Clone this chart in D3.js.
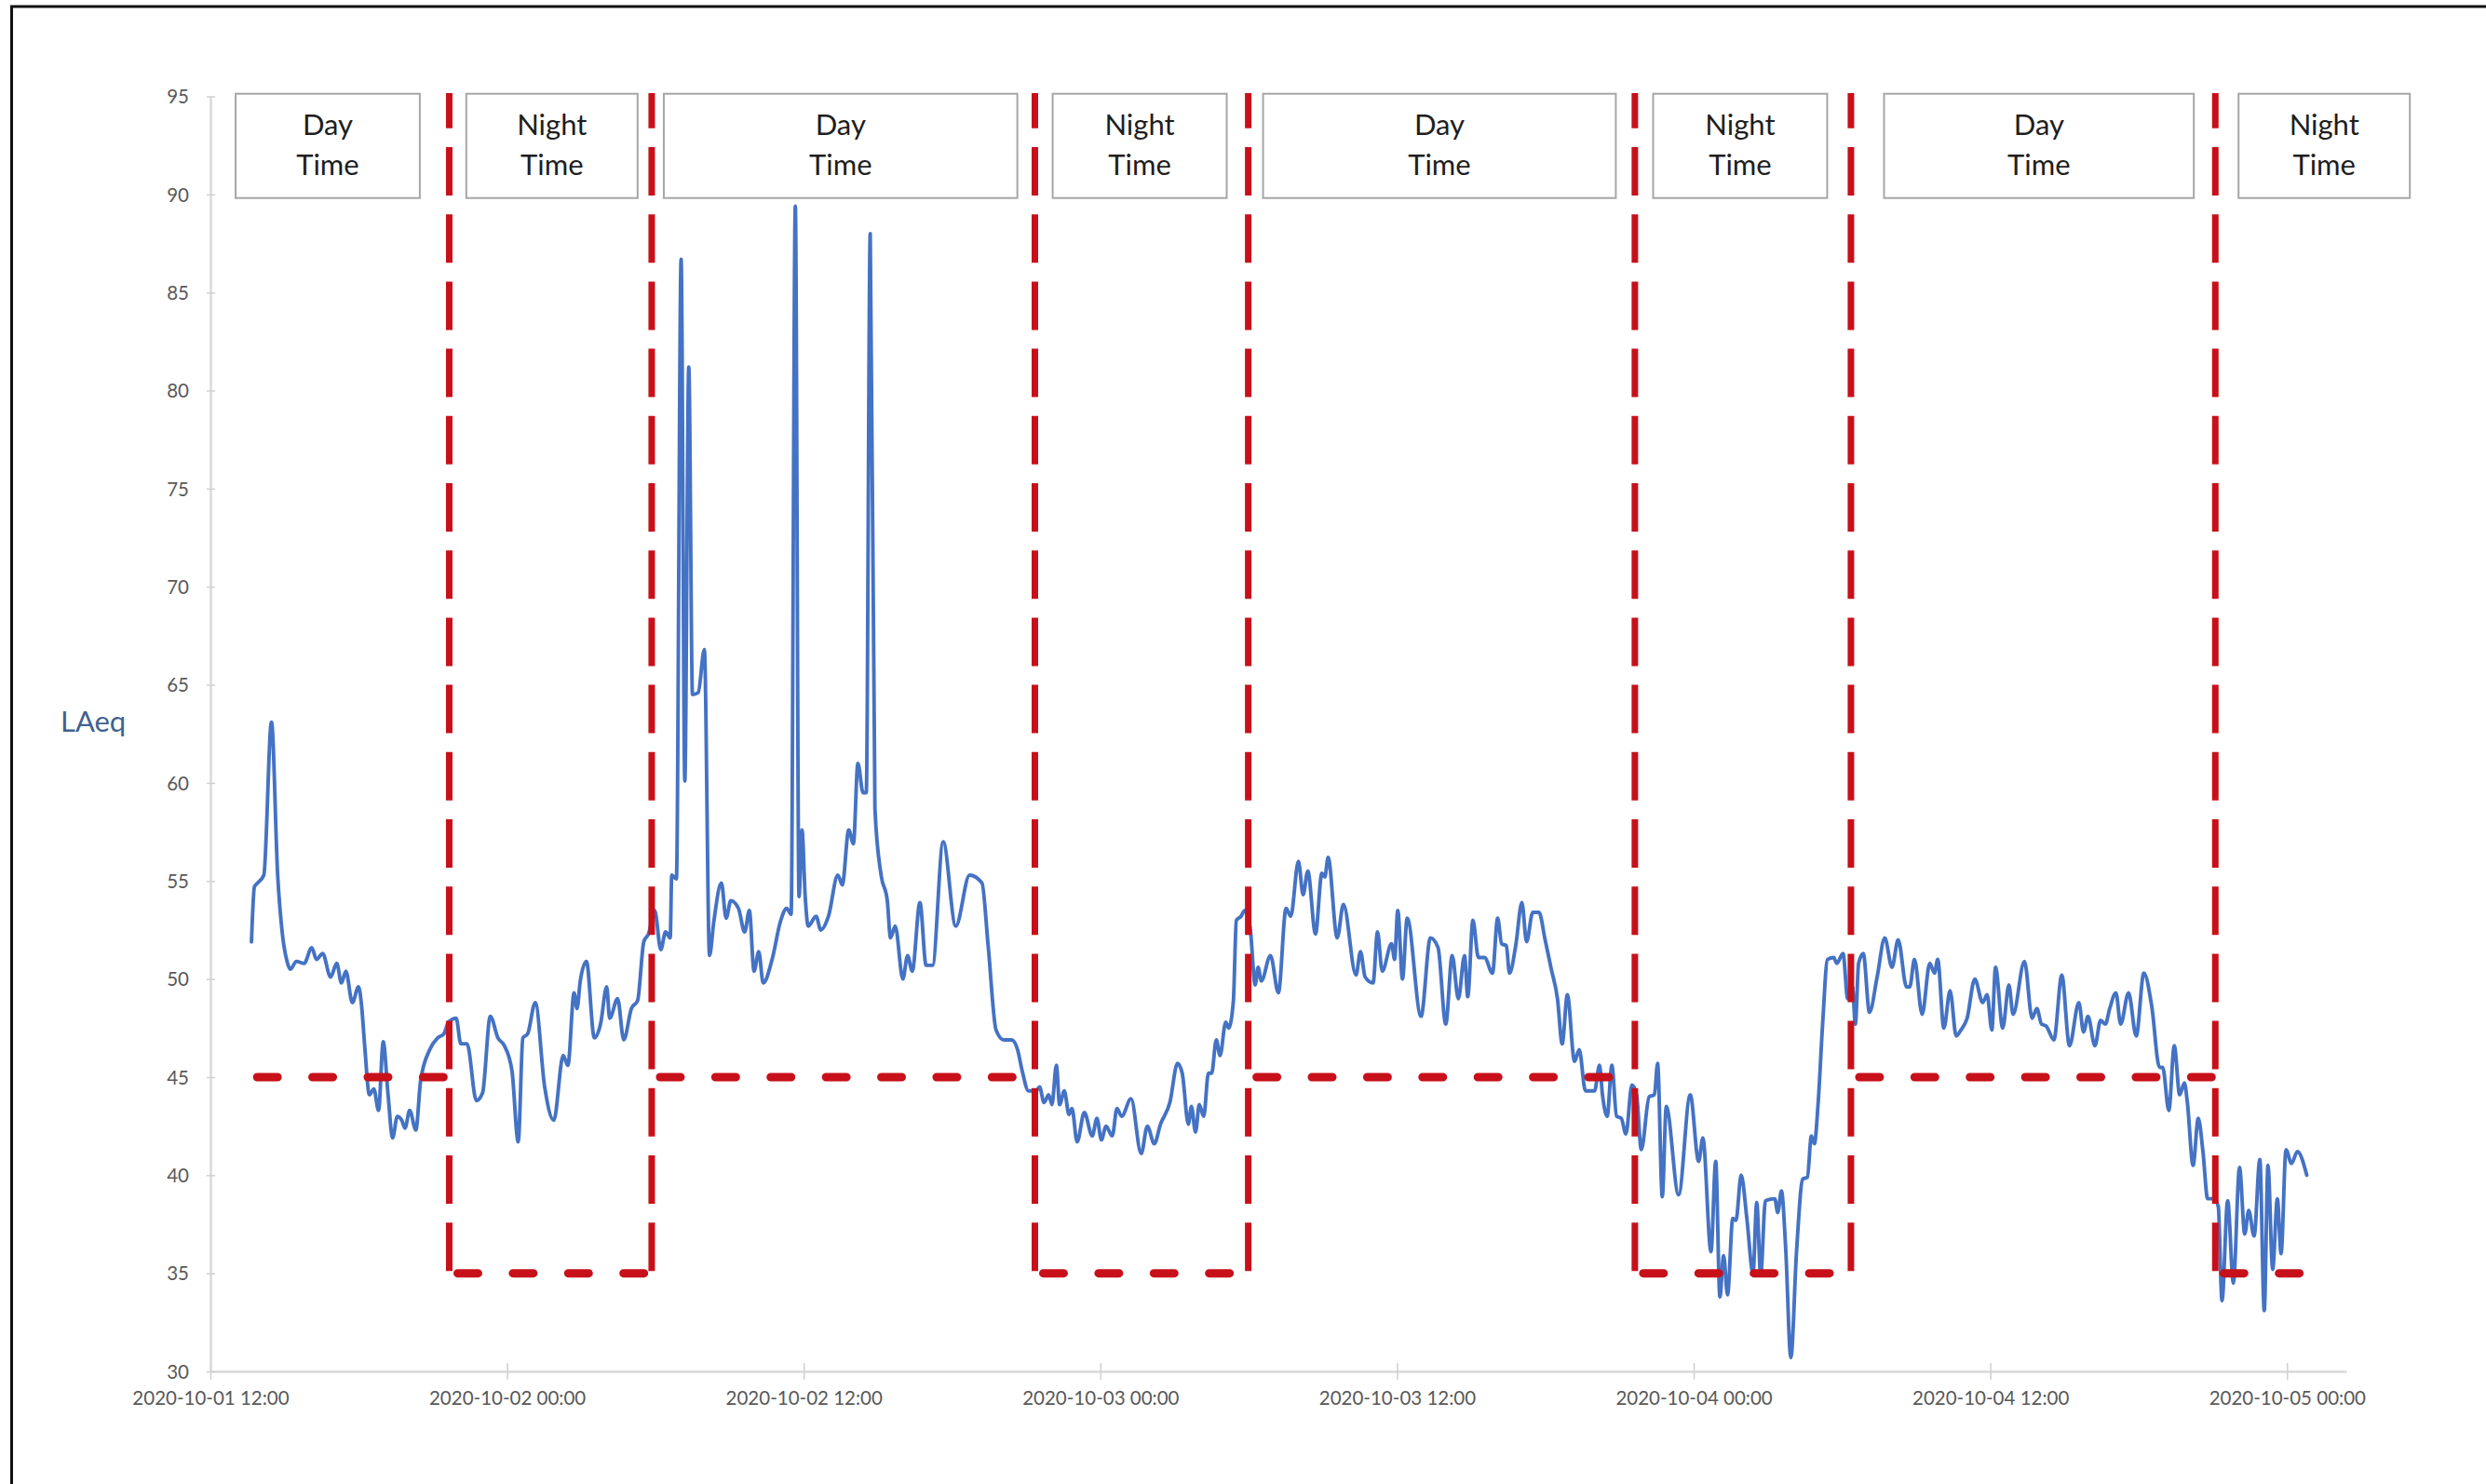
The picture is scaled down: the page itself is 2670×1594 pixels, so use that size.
<!DOCTYPE html>
<html>
<head>
<meta charset="utf-8">
<script src="https://cdn.jsdelivr.net/npm/d3@7"></script>
<style>
html, body { margin: 0; padding: 0; background: #fff; }
svg { display: block; }
</style>
</head>
<body>
<svg id="chart" width="2670" height="1594"></svg>
<script>
// ---------------- DATA ----------------
const startTime = "2020-10-01 12:00";
const axisEndTime = "2020-10-05 02:24";
const xTickLabels = ["2020-10-01 12:00", "2020-10-02 00:00", "2020-10-02 12:00", "2020-10-03 00:00",
                     "2020-10-03 12:00", "2020-10-04 00:00", "2020-10-04 12:00", "2020-10-05 00:00"];
const yTicks = [30, 35, 40, 45, 50, 55, 60, 65, 70, 75, 80, 85, 90, 95];
const yLabel = "LAeq";

// elapsed hours since 2020-10-01 12:00
const hoursFromStart = [
 1.66,1.78,1.91,2.16,2.47,2.72,2.91,3.10,3.23,3.48,3.79,4.10,4.29,4.54,4.86,5.11,5.30,5.48,5.74,5.99,
 6.11,6.24,6.43,6.61,6.80,6.99,7.18,7.37,7.56,7.74,7.87,8.06,8.31,8.50,8.87,9.19,9.44,9.63,9.94,10.13,
 10.38,10.76,11.01,11.32,11.63,11.89,12.20,12.45,12.64,12.83,13.14,13.52,13.89,14.27,14.46,14.71,14.83,14.96,15.21,15.53,
 15.78,16.03,16.15,16.47,16.72,17.03,17.28,17.53,17.72,17.97,18.22,
 18.41,18.60,18.66,18.85,19.04,19.19,19.35,19.50,19.73,19.98,20.19,20.36,20.67,20.86,21.05,21.36,21.61,21.80,21.99,22.18,
 22.36,22.74,23.05,23.31,23.49,23.66,23.81,23.93,24.06,24.18,24.50,24.69,25.00,25.38,25.56,25.82,26.01,26.19,26.40,26.53,
 26.69,26.88,27.13,27.38,27.51,27.70,28.01,28.20,28.39,28.70,28.95,29.21,29.64,30.15,30.71,31.21,31.46,31.78,32.09,32.41,
 32.65,32.84,33.09,33.41,
 33.54,33.72,33.91,34.04,34.22,34.35,34.54,34.73,34.85,35.06,35.35,35.67,35.86,36.04,36.23,36.48,36.67,36.86,37.24,37.65,
 37.90,38.18,38.43,38.81,39.12,39.31,39.56,39.68,39.85,40.00,40.18,40.37,40.50,40.69,40.84,41.07,41.19,41.38,41.50,41.69,
 41.84,42.06,42.26,42.38,42.51,42.88,43.20,43.51,43.70,44.01,44.20,44.39,44.70,44.96,45.08,45.21,45.58,45.83,46.34,46.52,
 46.71,47.03,47.21,47.40,47.78,47.90,48.03,48.22,48.41,48.97,49.35,49.66,49.97,50.23,
 50.48,50.73,50.86,51.07,51.29,51.54,51.86,52.07,52.23,52.42,52.55,52.80,53.05,53.24,53.49,53.74,53.99,54.24,54.49,54.68,
 54.89,55.18,55.37,55.62,55.99,56.19,56.31,56.50,56.69,56.88,57.07,57.26,57.50,57.69,57.88,58.20,58.41,58.54,58.73,58.89,
 59.39,59.86,60.20,60.37,60.70,60.89,61.06,61.21,61.37,61.58,61.71,61.92,62.15,62.40,62.55,62.71,62.90,63.28,63.40,63.55,
 63.72,63.93,64.16,64.41,64.60,64.76,64.88,65.03,65.22,65.41,65.66,65.79,66.04,66.23,66.42,66.54,
 66.67,66.86,67.11,67.42,67.73,68.02,68.27,68.61,68.74,68.93,69.24,69.55,69.74,69.87,70.12,70.37,70.62,70.81,71.06,71.37,
 71.69,71.87,72.06,72.21,72.50,72.75,72.92,73.38,73.69,73.88,74.07,74.26,74.57,74.89,75.20,75.58,75.77,75.95,76.23,76.46,
 76.65,76.83,77.08,77.27,77.59,77.90,78.21,78.53,78.84,78.97,79.22,79.44,79.66,79.85,79.97,80.20,80.41,80.60,80.79,81.04,
 81.22,81.37,81.60,81.83,82.08,82.29,82.45,82.67,82.90,83.08,83.23,83.42,83.61,83.76,83.96,84.18,84.42,84.80
];
const laeqValues = [
 51.9,54.7,54.9,55.3,63.1,55.3,52.3,50.9,50.5,50.9,50.8,51.6,51.0,51.3,50.1,50.8,49.8,50.4,48.8,49.6,
 48.7,46.6,44.1,44.4,43.3,46.8,44.2,41.9,43.0,42.8,42.4,43.3,42.3,44.8,46.4,47.0,47.2,47.8,48.0,46.7,
 46.7,43.8,44.2,48.1,47.0,46.6,45.3,41.7,47.0,47.2,48.8,44.5,42.8,46.1,45.6,49.3,48.5,49.9,50.9,47.0,
 47.7,49.6,48.0,49.0,46.9,48.5,48.9,51.9,52.3,53.5,51.5,
 52.4,52.1,55.3,55.1,86.7,60.1,81.2,64.5,64.6,66.8,51.2,52.9,54.9,53.1,54.0,53.6,52.4,53.5,50.4,51.4,
 49.8,51.1,52.9,53.6,53.3,89.4,54.2,57.6,54.2,52.7,53.2,52.5,53.2,55.3,54.8,57.6,56.9,61.0,59.5,59.5,
 88.0,58.7,55.3,54.0,52.1,52.7,50.0,51.2,50.4,53.9,50.7,50.7,57.0,52.7,55.3,54.9,51.7,47.4,46.9,46.9,
 46.4,45.3,44.3,44.3,
 44.5,43.7,44.1,43.6,45.6,43.6,44.3,43.1,43.4,41.7,43.2,42.0,42.9,41.8,42.5,42.0,43.4,43.0,43.9,41.1,
 42.5,41.6,42.6,43.7,45.7,45.2,42.6,43.5,42.2,43.6,43.0,45.2,45.2,46.9,46.1,47.8,47.5,48.9,53.0,53.2,
 53.5,52.6,49.7,50.6,49.9,51.2,49.3,53.6,53.2,56.0,54.3,55.5,52.3,55.4,55.2,56.2,52.1,53.8,50.2,51.4,
 50.1,49.8,52.4,50.4,51.8,51.0,53.5,50.0,53.1,48.1,52.1,51.6,47.7,51.2,
 49.0,51.2,49.1,53.0,51.1,51.1,50.3,53.1,51.8,51.7,50.3,51.7,53.9,51.9,53.4,53.4,52.0,50.5,49.0,46.7,
 49.2,45.8,46.4,44.3,44.3,45.6,44.1,43.0,45.6,43.0,42.9,42.1,44.6,44.1,41.3,44.0,44.1,45.7,38.9,43.5,
 39.0,44.1,40.7,41.9,36.1,40.7,33.8,35.9,33.9,37.8,37.7,40.0,37.8,35.0,38.6,34.9,38.7,38.8,38.1,39.2,
 36.3,30.7,36.1,39.8,39.9,42.0,41.6,43.6,47.8,51.0,51.1,50.8,51.3,49.0,49.6,47.7,
 50.8,51.3,48.3,50.1,52.1,50.6,52.0,49.6,49.6,51.0,48.2,50.8,50.3,51.0,47.5,49.4,47.1,47.4,48.0,50.0,
 48.8,49.2,47.4,50.6,47.5,49.7,48.2,50.9,48.0,48.5,47.7,47.6,46.9,50.2,46.6,48.8,47.3,48.1,46.6,47.9,
 47.7,48.5,49.3,47.7,49.3,47.1,50.3,48.6,45.5,45.5,43.3,46.6,44.1,44.7,43.7,40.5,42.9,41.2,38.8,38.8,
 38.4,33.6,38.7,34.5,40.4,37.0,38.2,36.9,40.8,33.1,40.5,35.2,38.8,36.0,41.3,40.6,41.2,40.0
];

// Day / night periods
const periodNames = ["Day", "Night", "Day", "Night", "Day", "Night", "Day", "Night"];
const periodBoundaryHours = [9.66, 17.85, 33.35, 41.98, 57.62, 66.36, 81.10];
const limitValues = [45, 35, 45, 35, 45, 35, 45, 35];
const limitStartHour = 1.55;
const limitEndHour = 84.94;
const boxStartHours = [1.02, 10.35, 18.34, 34.07, 42.58, 58.36, 67.70, 82.04];
const boxEndHours   = [8.47, 17.28, 32.64, 41.11, 56.85, 65.40, 80.23, 88.97];

// ---------------- CHART ----------------
const parseT = d3.utcParse("%Y-%m-%d %H:%M");
const fmtT = d3.utcFormat("%Y-%m-%d %H:%M");
const t0 = parseT(startTime);
const hToDate = h => new Date(t0.getTime() + h * 3600e3);

const svg = d3.select("#chart");
const x = d3.scaleUtc().domain([t0, parseT(axisEndTime)]).range([226, 2520]);
const y = d3.scaleLinear().domain([30, 95]).range([1473, 103.5]);

const FONT = "Lato, 'Open Sans', 'Liberation Sans', sans-serif";
const RED = "#c8101a";

// outer frame (right / bottom edges fall outside the picture)
svg.append("rect").attr("x", 12.5).attr("y", 7).attr("width", 2800).attr("height", 1700)
  .attr("fill", "none").attr("stroke", "#111").attr("stroke-width", 3);

// X axis
const xAxis = svg.append("g").attr("transform", `translate(0,${y(30)})`)
  .call(d3.axisBottom(x).tickValues(xTickLabels.map(parseT)).tickFormat(fmtT)
        .tickSizeInner(9).tickSizeOuter(0));
xAxis.select(".domain").attr("stroke", "#d9d9d9").attr("stroke-width", 2.5);
xAxis.selectAll(".tick line").attr("y1", -9).attr("y2", 9).attr("stroke", "#d0d0d0").attr("stroke-width", 1.5);
xAxis.selectAll(".tick text").attr("y", 29).attr("dy", "0.35em")
  .attr("font-family", FONT).attr("font-size", 20.5).attr("fill", "#595959");

// Y axis
const yAxis = svg.append("g").attr("transform", `translate(${x(t0)},0)`)
  .call(d3.axisLeft(y).tickValues(yTicks).tickFormat(d3.format("d")).tickSizeInner(5).tickSizeOuter(0));
yAxis.select(".domain").attr("stroke", "#d9d9d9").attr("stroke-width", 2.5);
yAxis.selectAll(".tick line").attr("x1", -4).attr("x2", 5).attr("stroke", "#d0d0d0").attr("stroke-width", 1.5);
yAxis.selectAll(".tick text").attr("x", -23).attr("dy", "0.35em")
  .attr("font-family", FONT).attr("font-size", 20.5).attr("fill", "#595959");

// Y axis title
svg.append("text").attr("x", 65).attr("y", 786).text(yLabel)
  .attr("font-family", FONT).attr("font-size", 31).attr("fill", "#41628f");

// LAeq series
const series = hoursFromStart.map((h, i) => ({ t: hToDate(h), v: laeqValues[i] }));
svg.append("path").datum(series)
  .attr("fill", "none").attr("stroke", "#4472c4").attr("stroke-width", 3.9)
  .attr("stroke-linejoin", "round").attr("stroke-linecap", "round")
  .attr("d", d3.line().x(d => x(d.t)).y(d => y(d.v)).curve(d3.curveMonotoneX));

// limit segments (horizontal dashed)
const edges = [limitStartHour, ...periodBoundaryHours, limitEndHour];
limitValues.forEach((lv, i) => {
  const xa = x(hToDate(edges[i])) + 9;
  const xb = x(hToDate(edges[i + 1]));
  svg.append("line").attr("x1", xa).attr("x2", xb).attr("y1", y(lv)).attr("y2", y(lv))
    .attr("stroke", RED).attr("stroke-width", 9).attr("stroke-linecap", "round")
    .attr("stroke-dasharray", "22 37.4");
});

// period boundaries (vertical dashed)
periodBoundaryHours.forEach(h => {
  const xv = x(hToDate(h));
  svg.append("line").attr("x1", xv).attr("x2", xv).attr("y1", y(95) - 3.5).attr("y2", y(35))
    .attr("stroke", RED).attr("stroke-width", 7)
    .attr("stroke-dasharray", "52 20.2").attr("stroke-dashoffset", 14.2);
});

// period label boxes
periodNames.forEach((name, i) => {
  const xa = x(hToDate(boxStartHours[i]));
  const xb = x(hToDate(boxEndHours[i]));
  const g = svg.append("g");
  g.append("rect").attr("x", xa).attr("y", y(95) - 2.8).attr("width", xb - xa).attr("height", 112)
    .attr("fill", "#fff").attr("stroke", "#a6a6a6").attr("stroke-width", 2);
  const cx = (xa + xb) / 2;
  g.append("text").attr("x", cx).attr("y", 145).attr("text-anchor", "middle").text(name)
    .attr("font-family", FONT).attr("font-size", 31).attr("fill", "#1e1e1e");
  g.append("text").attr("x", cx).attr("y", 188).attr("text-anchor", "middle").text("Time")
    .attr("font-family", FONT).attr("font-size", 31).attr("fill", "#1e1e1e");
});
</script>
</body>
</html>
